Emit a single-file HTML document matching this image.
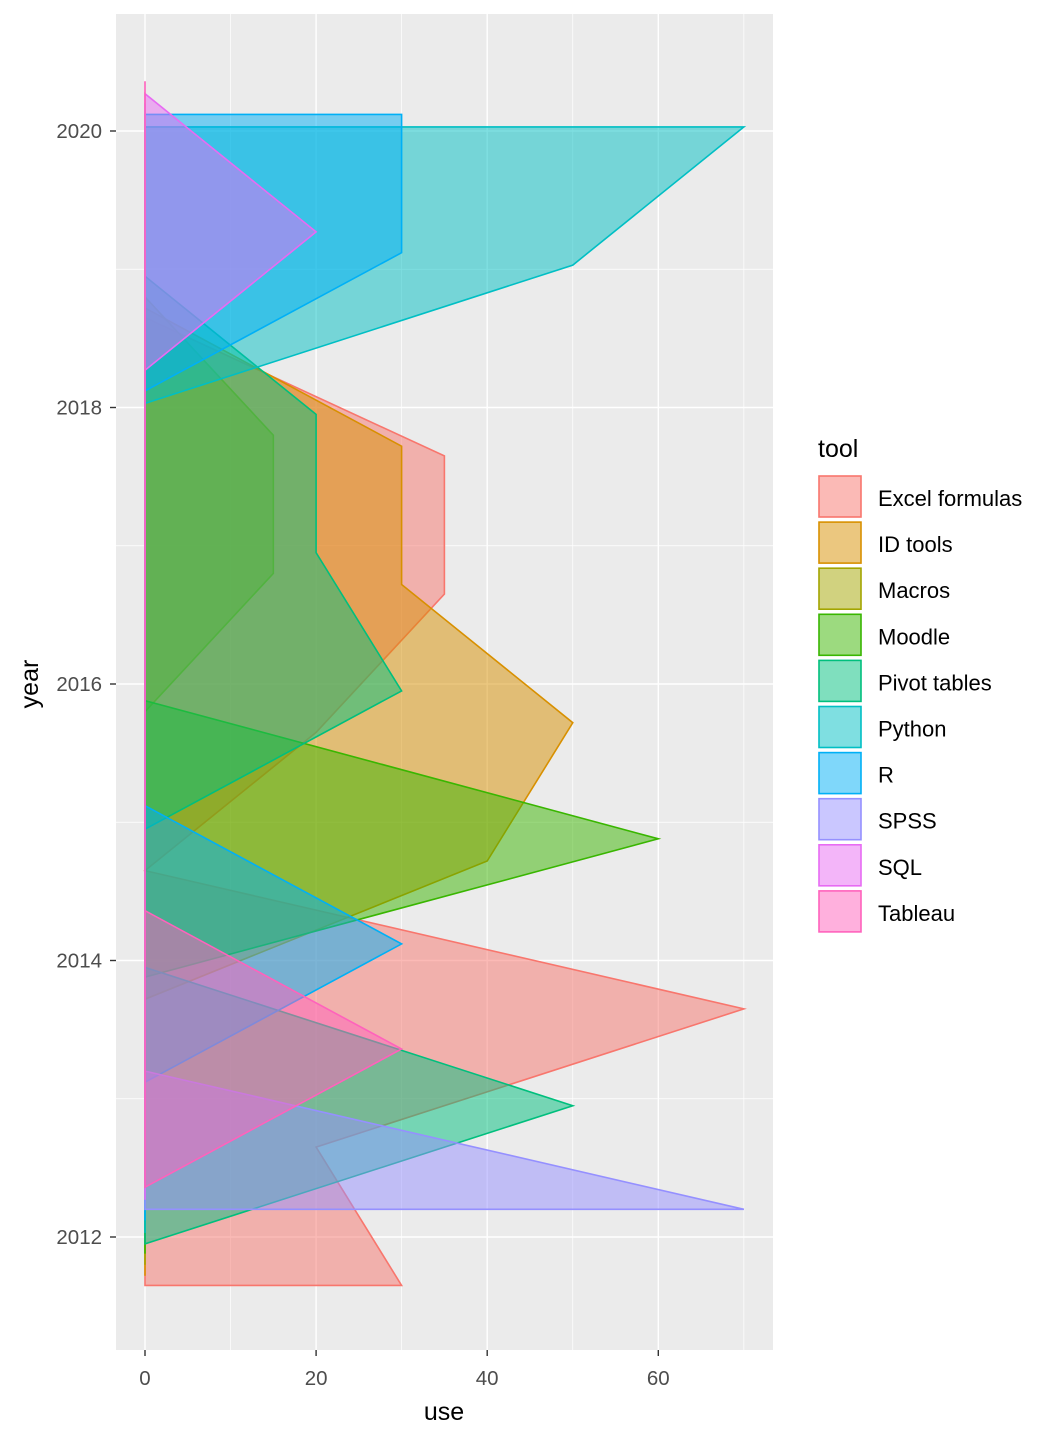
<!DOCTYPE html>
<html><head><meta charset="utf-8"><style>
html,body{margin:0;padding:0;background:#fff;}
svg{display:block;font-family:"Liberation Sans",Arial,sans-serif;}
</style></head><body>
<svg id="chart" width="1056" height="1440" viewBox="0 0 1056 1440" xmlns="http://www.w3.org/2000/svg">
<rect x="0" y="0" width="1056" height="1440" fill="#fff"/>
<rect x="116" y="14" width="657" height="1336" fill="#ebebeb"/>
<g id="grid"></g>
<g id="areas"></g>
<g id="axes"></g>
<text x="444" y="1420" font-size="25" text-anchor="middle" fill="#000">use</text>
<text transform="translate(38,684) rotate(-90)" font-size="25" text-anchor="middle" fill="#000">year</text>
<text x="818" y="457" font-size="25" fill="#000">tool</text>
<g id="legend"></g>
</svg>
<script>
const tools = ["Excel formulas","ID tools","Macros","Moodle","Pivot tables","Python","R","SPSS","SQL","Tableau"];
const colors = ["#F8766D","#D89000","#A3A500","#39B600","#00BF7D","#00BFC4","#00B0F6","#9590FF","#E76BF3","#FF62BC"];
const startYears = [2011.65,2011.72,2011.80,2011.88,2011.95,2012.03,2012.12,2012.20,2012.27,2012.36];
const excelUse = [30,20,70,0,20,35,35,0,0];
const idUse = [0,0,0,40,50,30,30,0,0];
const macrosUse = [0,0,0,0,0,15,15,0,0];
const moodleUse = [0,0,0,60,0,0,0,0,0];
const pivotUse = [0,50,0,0,30,20,20,0,0];
const pythonUse = [0,0,0,0,0,0,0,50,70];
const rUse = [0,0,30,0,0,0,0,30,30];
const spssUse = [70,0,0,0,0,0,0,0,0];
const sqlUse = [0,0,0,0,0,0,0,20,0];
const tableauUse = [0,30,0,0,0,0,0,0,0];
const seriesUse = [excelUse,idUse,macrosUse,moodleUse,pivotUse,pythonUse,rUse,spssUse,sqlUse,tableauUse];
const xTicks = [0,20,40,60];
const xMinor = [10,30,50,70];
const yTicks = [2012,2014,2016,2018,2020];
const yMinor = [2013,2015,2017,2019];

const NS="http://www.w3.org/2000/svg";
const X0=116,X1=773,Y0=14,Y1=1350;
const xs=u=>145+u*8.555;
const ys=y=>1237-(y-2012)*138.25;
function mk(tag,attrs,parent){const e=document.createElementNS(NS,tag);for(const k in attrs)e.setAttribute(k,attrs[k]);parent.appendChild(e);return e;}
const grid=document.getElementById('grid'),areas=document.getElementById('areas'),axes=document.getElementById('axes'),legend=document.getElementById('legend');
xMinor.forEach(v=>{const l=mk('line',{x1:xs(v),x2:xs(v),y1:Y0,y2:Y1,stroke:'#fff','stroke-width':0.7},grid);

});
yMinor.forEach(v=>{const l=mk('line',{x1:X0,x2:X1,y1:ys(v),y2:ys(v),stroke:'#fff','stroke-width':0.7},grid);

});
xTicks.forEach(v=>{const l=mk('line',{x1:xs(v),x2:xs(v),y1:Y0,y2:Y1,stroke:'#fff','stroke-width':1.4},grid);


const t=mk('line',{x1:xs(v),x2:xs(v),y1:Y1,y2:Y1+6,stroke:'#333','stroke-width':1.4},axes);


const tx=mk('text',{x:xs(v),y:1385,'font-size':20.5,'text-anchor':'middle',fill:'#4d4d4d'},axes);tx.textContent=v;

});
yTicks.forEach(v=>{const l=mk('line',{x1:X0,x2:X1,y1:ys(v),y2:ys(v),stroke:'#fff','stroke-width':1.4},grid);


const t=mk('line',{x1:X0-6,x2:X0,y1:ys(v),y2:ys(v),stroke:'#333','stroke-width':1.4},axes);


const tx=mk('text',{x:102,y:ys(v)+7,'font-size':20.5,'text-anchor':'end',fill:'#4d4d4d'},axes);tx.textContent=v;

});
tools.forEach((name,i)=>{
  const vals=seriesUse[i];const s=startYears[i];
  let pts=[[xs(0),ys(s)]];
  vals.forEach((u,j)=>pts.push([xs(u),ys(s+j)]));
  pts.push([xs(0),ys(s+vals.length-1)]);
  const p=mk('polygon',{points:pts.map(q=>q[0].toFixed(1)+','+q[1].toFixed(1)).join(' '),fill:colors[i],'fill-opacity':0.5,stroke:colors[i],'stroke-width':1.6,'stroke-linejoin':'miter'},areas);
  
  
  const y=476+i*46.1;
  const k=mk('rect',{x:819,y:y,width:42,height:41,fill:colors[i],'fill-opacity':0.5,stroke:colors[i],'stroke-width':1.6},legend);
  
  
  const t=mk('text',{x:878,y:y+30,'font-size':22,fill:'#000'},legend);t.textContent=name;
  
  
});
</script>
</body></html>
